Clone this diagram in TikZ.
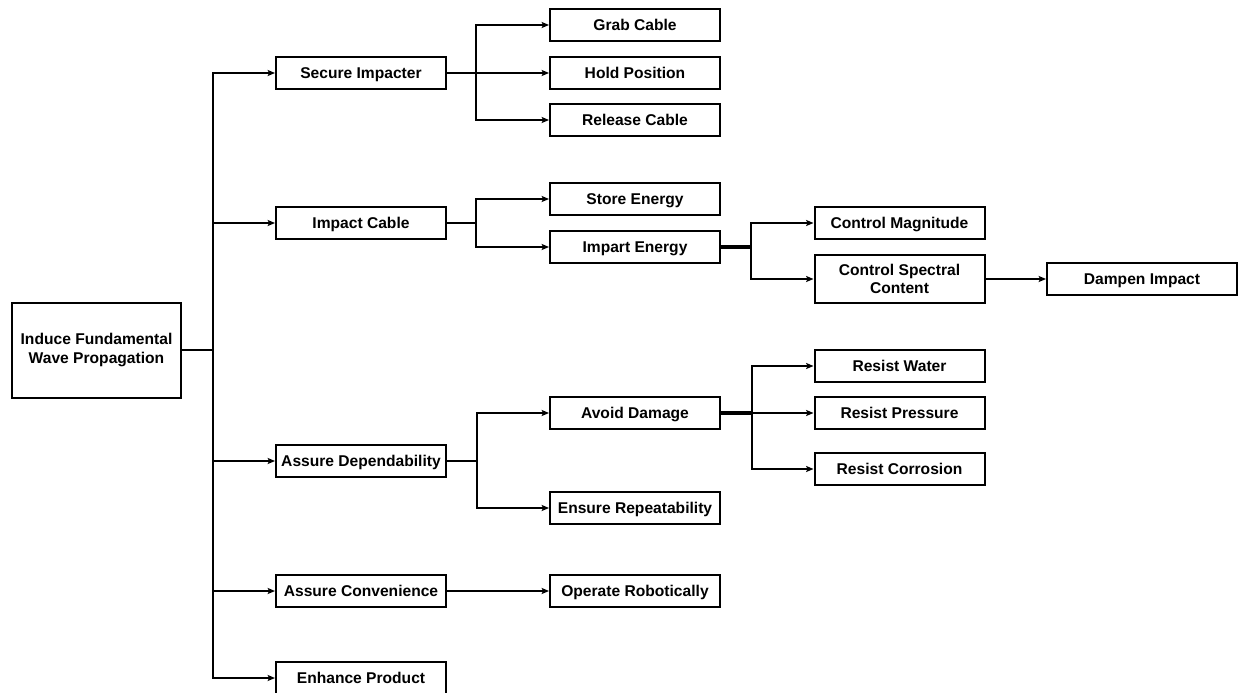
\documentclass[tikz,border=0pt]{standalone}
\usepackage{fontspec}
\setmainfont{Liberation Sans}
\usetikzlibrary{arrows.meta}
\begin{document}
\begin{tikzpicture}[x=0.75pt,y=-0.75pt,
 box/.style={draw,line width=1.5pt,minimum width=127.5pt,minimum height=24pt,inner sep=0pt,align=center,font=\fontsize{11.7}{14}\selectfont\bfseries},
 onebox/.style={box,text height=8.4pt,text depth=0pt},
 conn/.style={line width=1.4pt,-{Stealth[length=5.5pt,width=4.5pt,inset=1pt]}},
 plain/.style={line width=1.4pt},
 heavy/.style={line width=2.3pt}]
\useasboundingbox (0,0) rectangle (1241,692);
\node[box,minimum width=126.75pt,minimum height=71.25pt] (r) at (96.5,350) {Induce Fundamental\\Wave Propagation};
\node[onebox] (s1) at (361,73) {Secure Impacter};
\node[onebox] (s2) at (361,223) {Impact Cable};
\node[onebox] (s3) at (361,461) {Assure Dependability};
\node[onebox] (s4) at (361,591) {Assure Convenience};
\node[onebox] (s5) at (361,678) {Enhance Product};
\node[onebox] (g1) at (635,25) {Grab Cable};
\node[onebox] (g2) at (635,73) {Hold Position};
\node[onebox] (g3) at (635,120) {Release Cable};
\node[onebox] (e1) at (635,199) {Store Energy};
\node[onebox] (e2) at (635,247) {Impart Energy};
\node[onebox] (d1) at (635,413) {Avoid Damage};
\node[onebox] (d2) at (635,508) {Ensure Repeatability};
\node[onebox] (o1) at (635,591) {Operate Robotically};
\node[onebox] (c1) at (899.5,223) {Control Magnitude};
\node[box,minimum height=36pt] (c2) at (899.5,279) {Control Spectral\\Content};
\node[onebox,minimum width=142.5pt] (c3) at (1142,279) {Dampen Impact};
\node[onebox] (w1) at (899.5,366) {Resist Water};
\node[onebox] (w2) at (899.5,413) {Resist Pressure};
\node[onebox] (w3) at (899.5,469) {Resist Corrosion};
\coordinate (t) at (213,350);
\coordinate (b1) at (476,73);
\coordinate (b2) at (476,223);
\coordinate (b3) at (477,461);
\coordinate (b4) at (751,247);
\coordinate (b5) at (752,413);
\draw[plain] (r.east) -- (t);
\draw[conn] (t) |- (s1);
\draw[conn] (t) |- (s5);
\draw[conn] (t |- s2) -- (s2);
\draw[conn] (t |- s3) -- (s3);
\draw[conn] (t |- s4) -- (s4);
\draw[plain] (s1.east) -- (b1);
\draw[conn] (b1) |- (g1);
\draw[conn] (b1) -- (g2);
\draw[conn] (b1) |- (g3);
\draw[plain] (s2.east) -- (b2);
\draw[conn] (b2) |- (e1);
\draw[conn] (b2) |- (e2);
\draw[heavy] (e2.east) -- (b4);
\draw[conn] (b4) |- (c1);
\draw[conn] (b4) |- (c2);
\draw[conn] (c2) -- (c3);
\draw[plain] (s3.east) -- (b3);
\draw[conn] (b3) |- (d1);
\draw[conn] (b3) |- (d2);
\draw[heavy] (d1.east) -- (b5);
\draw[conn] (b5) |- (w1);
\draw[conn] (b5) -- (w2);
\draw[conn] (b5) |- (w3);
\draw[conn] (s4) -- (o1);
\end{tikzpicture}
\end{document}
